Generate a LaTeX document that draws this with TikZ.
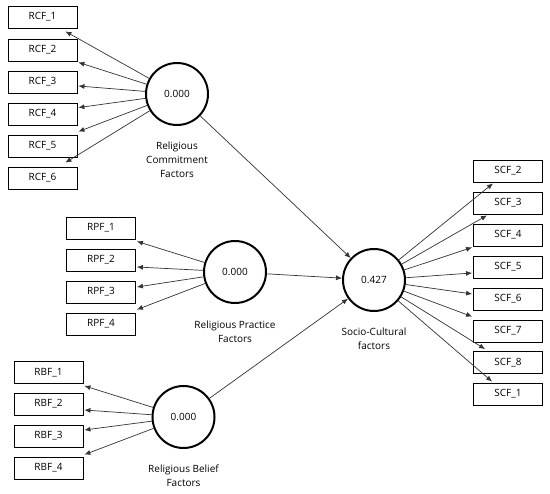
\documentclass[tikz,border=0pt]{standalone}
\usepackage{fontspec}
\setmainfont{Open Sans}
\usetikzlibrary{arrows.meta,calc}
\begin{document}
\begin{tikzpicture}[x=1pt,y=-1pt,
 box/.style={draw=black,line width=0.8pt,minimum width=69pt,minimum height=22pt,inner sep=0pt,font=\fontsize{10}{11}\selectfont},
 lv/.style={circle,draw=black,line width=2pt,minimum size=62pt,inner sep=0pt,font=\fontsize{10}{11}\selectfont},
 lbl/.style={align=center,inner sep=0pt,font=\fontsize{10}{14}\selectfont},
 arr/.style={draw=black!80,line width=0.7pt,-{Latex[length=6pt,width=5pt]}}]
\useasboundingbox[fill=white] (0,0) rectangle (550,494);
% RCF
\node[box] (rcf1) at (42.5,17) {RCF\_1};
\node[box] (rcf2) at (42.5,50) {RCF\_2};
\node[box] (rcf3) at (42.5,82) {RCF\_3};
\node[box] (rcf4) at (42.5,114) {RCF\_4};
\node[box] (rcf5) at (42.5,146) {RCF\_5};
\node[box] (rcf6) at (42.5,178) {RCF\_6};
\node[lv] (rcfc) at (177,94) {0.000};
\node[lbl] (rcfl) at (177,160) {Religious\\Commitment\\Factors};
% RPF
\node[box] (rpf1) at (101,228) {RPF\_1};
\node[box] (rpf2) at (101,260) {RPF\_2};
\node[box] (rpf3) at (101,292) {RPF\_3};
\node[box] (rpf4) at (101,324) {RPF\_4};
\node[lv] (rpfc) at (235,272) {0.000};
\node[lbl] (rpfl) at (235,331.5) {Religious Practice\\Factors};
% RBF
\node[box] (rbf1) at (48.5,372.5) {RBF\_1};
\node[box] (rbf2) at (48.5,404) {RBF\_2};
\node[box] (rbf3) at (48.5,436) {RBF\_3};
\node[box] (rbf4) at (48.5,468) {RBF\_4};
\node[lv] (rbfc) at (183.5,417) {0.000};
\node[lbl] (rbfl) at (183.5,475.5) {Religious Belief\\Factors};
% SCF
\node[lv] (scfc) at (374,280) {0.427};
\node[lbl] (scfl) at (374,339) {Socio-Cultural\\factors};
\node[box] (scf2) at (508,171) {SCF\_2};
\node[box] (scf3) at (508,203) {SCF\_3};
\node[box] (scf4) at (508,235) {SCF\_4};
\node[box] (scf5) at (508,267) {SCF\_5};
\node[box] (scf6) at (508,299) {SCF\_6};
\node[box] (scf7) at (508,331) {SCF\_7};
\node[box] (scf8) at (508,362.5) {SCF\_8};
\node[box] (scf1) at (508,394) {SCF\_1};
% RCF arrows
\draw[arr] (rcfc) -- ($(rcf1.south east)+(-12,3)$);
\draw[arr] (rcfc) -- ($(rcf2.south east)+(1,1)$);
\draw[arr] (rcfc) -- ($(rcf3.east)+(1,4)$);
\draw[arr] (rcfc) -- ($(rcf4.north east)+(1,5)$);
\draw[arr] (rcfc) -- ($(rcf5.north east)+(1,-3)$);
\draw[arr] (rcfc) -- ($(rcf6.north east)+(-12,-4)$);
% RPF arrows
\draw[arr] (rpfc) -- ($(rpf1.south east)+(1,2)$);
\draw[arr] (rpfc) -- ($(rpf2.east)+(1,7)$);
\draw[arr] (rpfc) -- ($(rpf3.east)+(1,-5)$);
\draw[arr] (rpfc) -- ($(rpf4.north east)+(1,-3)$);
% RBF arrows
\draw[arr] (rbfc) -- ($(rbf1.south east)+(1,2)$);
\draw[arr] (rbfc) -- ($(rbf2.east)+(1,6)$);
\draw[arr] (rbfc) -- ($(rbf3.east)+(1,-6)$);
\draw[arr] (rbfc) -- ($(rbf4.north east)+(1,-2)$);
% structural
\draw[arr] (rcfc) -- (scfc);
\draw[arr] (rpfc) -- (scfc);
\draw[arr] (rbfc) -- (scfc);
% SCF arrows
\draw[arr] (scfc) -- ($(scf2.south)+(-15,1)$);
\draw[arr] (scfc) -- ($(scf3.south)+(-21,1)$);
\draw[arr] (scfc) -- ($(scf4.south west)+(-1,1)$);
\draw[arr] (scfc) -- ($(scf5.west)+(-1,6)$);
\draw[arr] (scfc) -- ($(scf6.west)+(-1,-5)$);
\draw[arr] (scfc) -- ($(scf7.north west)+(-1,-3)$);
\draw[arr] (scfc) -- ($(scf8.north west)+(12,-2)$);
\draw[arr] (scfc) -- ($(scf1.north west)+(19,-1)$);
\end{tikzpicture}
\end{document}
